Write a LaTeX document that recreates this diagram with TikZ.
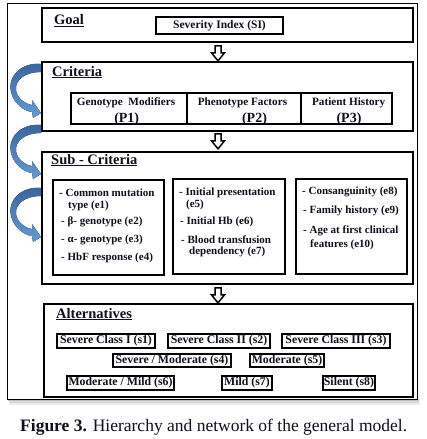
\documentclass[tikz,border=0pt]{standalone}
\usepackage{fontspec}
\setmainfont{Liberation Serif}
\usetikzlibrary{calc}
\definecolor{ink}{RGB}{15,15,30}
\definecolor{arrdark}{RGB}{55,100,158}
\definecolor{arrlight}{RGB}{100,155,212}
\begin{document}
\begin{tikzpicture}[x=1pt,y=-1pt,
  lvlbox/.style={draw=black, line width=1.7pt, fill=white, inner sep=0pt},
  inbox/.style={draw=black, line width=1.6pt, inner sep=0pt},
  hd/.style={font=\bfseries\fontsize{14.5}{16}\selectfont, text=ink, inner sep=0pt, anchor=base west},
  ptxt/.style={font=\bfseries\fontsize{11.2}{13}\selectfont, text=ink, inner sep=0pt, anchor=base},
  pnum/.style={font=\bfseries\fontsize{14}{16}\selectfont, text=ink, inner sep=0pt, anchor=base},
  etx/.style={font=\bfseries\fontsize{11}{12}\selectfont, text=ink, inner sep=0pt, anchor=base west},
  abox/.style={draw=black, line width=1.6pt, font=\bfseries\fontsize{11.8}{13}\selectfont, text=ink, inner sep=0pt},
  hollow/.pic={\draw[line width=1.5pt, fill=white, line join=miter]
     (-3,0) -- (3,0) -- (3,7) -- (6.5,7) -- (0,15) -- (-6.5,7) -- (-3,7) -- cycle;},
  curvarr/.pic={\fill[top color=arrdark, bottom color=arrlight]
     (41,64) .. controls (20,62) and (7,78) .. (11,92)
     .. controls (14,104) and (24,111) .. (32,112)
     -- (33,118) -- (41,113) -- (32,100) -- (32,105)
     .. controls (25,104) and (17,98) .. (16,90)
     .. controls (15,80) and (25,72) .. (41,72) -- cycle;}
]
\useasboundingbox (0,0) rectangle (426,439);
\fill[white] (0,0) rectangle (426,439);
% shadow of outer frame
\fill[black!8] (9,399) rectangle (420,405);
\fill[black!15] (9,399) rectangle (419,403);
\fill[black!25] (8,399) rectangle (418,401);
% outer frame
\node[draw=black, line width=0.8pt, fill=white, inner sep=0pt, minimum width=410pt, minimum height=396pt] (frame) at (212,201) {};

% level boxes
\node[lvlbox, minimum width=371pt, minimum height=34pt] (goal) at (227.5,25) {};
\node[lvlbox, minimum width=371pt, minimum height=69pt] (crit) at (227.5,96.5) {};
\node[lvlbox, minimum width=371pt, minimum height=132pt] (sub) at (227.5,218) {};
\node[lvlbox, minimum width=369pt, minimum height=93pt] (alt) at (228.5,350.5) {};

% headings
\node[hd] (goalhd) at (54,24.5) {\underline{Goal}};
\node[hd] (crithd) at (52,76) {\underline{Criteria}};
\node[hd] (subhd) at (51,164) {\underline{Sub - Criteria}};
\node[hd] (althd) at (56,318) {\underline{Alternatives}};

% goal
\node[inbox, line width=1.3pt, minimum width=127pt, minimum height=17pt,
      font=\bfseries\fontsize{11.5}{13}\selectfont, text=ink] (si) at (219.5,25.5) {Severity Index (SI)};

% criteria
\node[inbox, minimum width=116pt, minimum height=31pt] (p1) at (129,108.5) {};
\node[inbox, minimum width=114pt, minimum height=31pt] (p2) at (244,108.5) {};
\node[inbox, minimum width=91pt, minimum height=31pt] (p3) at (346.5,108.5) {};
\node[ptxt] (p1a) at (126,105) {Genotype\ \ Modifiers};
\node[pnum] (p1b) at (126.7,122.5) {(P1)};
\node[ptxt] (p2a) at (242.5,105) {Phenotype Factors};
\node[pnum] (p2b) at (254.5,122.5) {(P2)};
\node[ptxt] (p3a) at (348.7,105) {Patient History};
\node[pnum] (p3b) at (349,122.5) {(P3)};

% sub-criteria
\node[inbox, minimum width=111pt, minimum height=95pt] (e1box) at (108.5,227.5) {};
\node[inbox, minimum width=112pt, minimum height=95pt] (e2box) at (229,226.5) {};
\node[inbox, minimum width=111pt, minimum height=95pt] (e3box) at (351.5,226.5) {};

\node[etx] (e1a) at (59,196.5) {- Common mutation};
\node[etx] (e1b) at (68,208.3) {type (e1)};
\node[etx] (e2) at (61,224.5) {- β- genotype (e2)};
\node[etx] (e3) at (61,242.7) {- α- genotype (e3)};
\node[etx] (e4) at (61,260.7) {- HbF response (e4)};

\node[etx] (e5a) at (179,195.7) {- Initial presentation};
\node[etx] (e5b) at (186,207.7) {(e5)};
\node[etx] (e6) at (180,224.3) {- Initial Hb (e6)};
\node[etx] (e7a) at (181,243.3) {- Blood transfusion};
\node[etx] (e7b) at (189,254.3) {dependency (e7)};

\node[etx] (e8) at (302,194.3) {- Consanguinity (e8)};
\node[etx] (e9) at (303,213.7) {- Family history (e9)};
\node[etx] (e10a) at (303,233.3) {- Age at first clinical};
\node[etx] (e10b) at (310,247.3) {features (e10)};

% alternatives
\node[abox, minimum width=98pt, minimum height=14pt] (s1) at (106,341) {Severe Class I (s1)};
\node[abox, minimum width=102pt, minimum height=14pt] (s2) at (219,341) {Severe Class II (s2)};
\node[abox, minimum width=108pt, minimum height=14pt] (s3) at (336,341) {Severe Class III (s3)};
\node[abox, minimum width=118pt, minimum height=13pt] (s4) at (172,360.5) {Severe / Moderate (s4)};
\node[abox, minimum width=74pt, minimum height=13pt] (s5) at (287,360.5) {Moderate (s5)};
\node[abox, minimum width=107pt, minimum height=14pt] (s6) at (120.5,383) {Moderate / Mild (s6)};
\node[abox, minimum width=50pt, minimum height=14pt] (s7) at (247,383) {Mild (s7)};
\node[abox, minimum width=52pt, minimum height=14pt] (s8) at (349,383) {Silent (s8)};

% hollow arrows between levels
\pic at ($(goal.south)+(-9.5,3)$) {hollow};
\pic at ($(crit.south)+(-9.5,2)$) {hollow};
\pic at ($(sub.south)+(-9.5,3)$) {hollow};

% curved blue arrows
\pic at (0,0) {curvarr};
\pic at (0,61) {curvarr};
\pic at (0,124) {curvarr};

% caption
\node[anchor=base west, inner sep=0pt, font=\fontsize{17.5}{20}\selectfont, text=ink] (cap) at (20,431.5)
  {\textbf{Figure 3.} Hierarchy and network of the general model.};
\end{tikzpicture}
\end{document}
